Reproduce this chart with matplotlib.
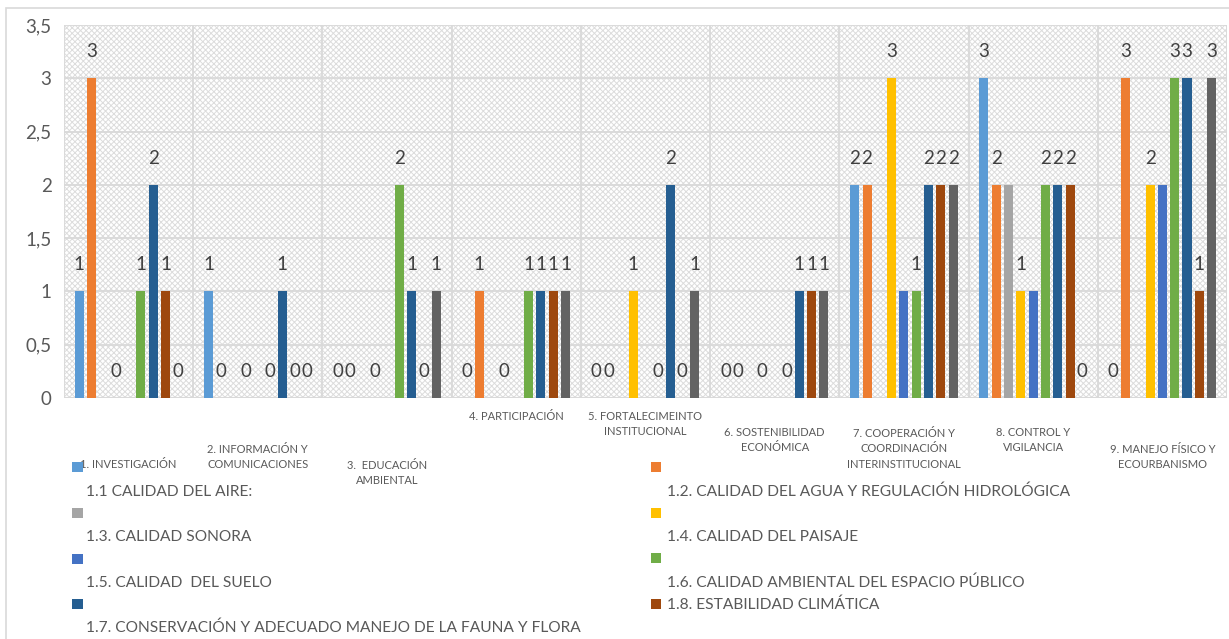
import numpy as np
import matplotlib
matplotlib.use("Agg")
import matplotlib.pyplot as plt
import matplotlib.transforms as mtransforms
from matplotlib.patches import Rectangle

plt.rcParams["font.family"] = ["Lato", "DejaVu Sans"]
plt.rcParams["hatch.linewidth"] = 0.7

# =========================
# data
# =========================
categories = [
    "1. INVESTIGACIÓN",
    "2. INFORMACIÓN Y\nCOMUNICACIONES",
    "3.  EDUCACIÓN\nAMBIENTAL",
    "4. PARTICIPACIÓN",
    "5. FORTALECIMEINTO\nINSTITUCIONAL",
    "6. SOSTENIBILIDAD\nECONÓMICA",
    "7. COOPERACIÓN Y\nCOORDINACIÓN\nINTERINSTITUCIONAL",
    "8. CONTROL Y\nVIGILANCIA",
    "9. MANEJO FÍSICO Y\nECOURBANISMO",
]
# vertical centre of each category label (pixels from top)
cat_label_y = [465, 457, 473, 417, 424, 440, 449, 440, 457]

series_names = [
    "1.1 CALIDAD DEL AIRE:",
    "1.2. CALIDAD DEL AGUA Y REGULACIÓN HIDROLÓGICA",
    "1.3. CALIDAD SONORA",
    "1.4. CALIDAD DEL PAISAJE",
    "1.5. CALIDAD  DEL SUELO",
    "1.6. CALIDAD AMBIENTAL DEL ESPACIO PÚBLICO",
    "1.7. CONSERVACIÓN Y ADECUADO MANEJO DE LA FAUNA Y FLORA",
    "1.8. ESTABILIDAD CLIMÁTICA",
    "1.9.",
]
colors = ["#5B9BD5", "#ED7D31", "#A5A5A5", "#FFC000", "#4472C4",
          "#70AD47", "#255E91", "#9E480E", "#636363"]

s11 = [1, 1, 0, 0, 0, 0, 2, 3, 0]
s12 = [3, 0, 0, 1, 0, 0, 2, 2, 3]
s13 = [0, 0, 0, 0, 0, 0, 0, 2, 0]
s14 = [0, 0, 0, 0, 1, 0, 3, 1, 2]
s15 = [0, 0, 0, 0, 0, 0, 1, 1, 2]
s16 = [1, 0, 2, 1, 0, 0, 1, 2, 3]
s17 = [2, 1, 1, 1, 2, 1, 2, 2, 3]
s18 = [1, 0, 0, 1, 0, 1, 2, 2, 1]
s19 = [0, 0, 1, 1, 1, 1, 2, 0, 3]
series = [s11, s12, s13, s14, s15, s16, s17, s18, s19]
labelled = [True, True, False, True, False, True, True, True, True]

# =========================
# plot
# =========================
W, H = 1229, 639
fig = plt.figure(figsize=(W / 100, H / 100), dpi=100)
ax = fig.add_axes([64 / W, 1 - 398 / H, 1163 / W, 373 / H])

# outer chart border
fig.patches.append(Rectangle((6 / W, -0.1), 1.2, 1 - 8 / H + 0.1,
                             transform=fig.transFigure, fill=False,
                             edgecolor="#d9d9d9", linewidth=1.2, zorder=0))

# patterned plot area
ax.add_patch(Rectangle((0, 0), 1, 1, transform=ax.transAxes, facecolor="none",
                       edgecolor="#dcdcdc", hatch="xxxxxx", linewidth=0, zorder=0))

x = np.arange(len(categories))
step = 0.0952
width = 0.07
n = len(series)
for k, vals in enumerate(series):
    pos = x + (k - (n - 1) / 2) * step
    ax.bar(pos, vals, width=width, color=colors[k], zorder=3)
    if labelled[k]:
        for px, v in zip(pos, vals):
            ax.text(px, v + 0.25, f"{v}", ha="center", va="center",
                    fontsize=13.5, color="#404040", zorder=4)

ax.set_xlim(-0.5, len(categories) - 0.5)
ax.set_ylim(0, 3.5)
ax.set_yticks(np.arange(0, 3.51, 0.5))
ax.set_yticklabels([f"{t:g}".replace(".", ",") for t in np.arange(0, 3.51, 0.5)],
                   fontsize=13.5, color="#595959")
ax.tick_params(axis="y", length=0, pad=9)
ax.set_xticks([])
for y in np.arange(0.5, 3.51, 0.5):
    ax.axhline(y, color="#d9d9d9", linewidth=1.3, zorder=1)
for b in np.arange(-0.5, len(categories), 1.0):
    ax.axvline(b, color="#d9d9d9", linewidth=1.3, zorder=1)
for sp in ax.spines.values():
    sp.set_visible(False)
ax.axhline(0, color="#d9d9d9", linewidth=1.5, zorder=2)

# category labels
trans = mtransforms.blended_transform_factory(ax.transData, fig.transFigure)
for i, (lab, yp) in enumerate(zip(categories, cat_label_y)):
    ax.text(i, 1 - yp / H, lab, transform=trans, ha="center", va="center",
            fontsize=8, color="#595959", linespacing=1.45)

# legend (two columns, text wrapped under marker)
sq = 10.5
legend_items = [
    (0, 72, 467, 86, 492),
    (2, 72, 513, 86, 537),
    (4, 72, 559, 86, 583),
    (6, 72, 604, 86, 628),
    (1, 651, 467, 667, 492),
    (3, 651, 513, 667, 537),
    (5, 651, 558, 667, 583),
    (7, 651, 604, 667, 605),
]
for idx, sx, sy, tx, ty in legend_items:
    fig.patches.append(Rectangle((sx / W, 1 - (sy + sq / 2) / H), sq / W, sq / H,
                                 transform=fig.transFigure, facecolor=colors[idx],
                                 edgecolor="none"))
    fig.text(tx / W, 1 - ty / H, series_names[idx], ha="left", va="center",
             fontsize=11.2, color="#595959")

fig.savefig("out.png", dpi=100)
